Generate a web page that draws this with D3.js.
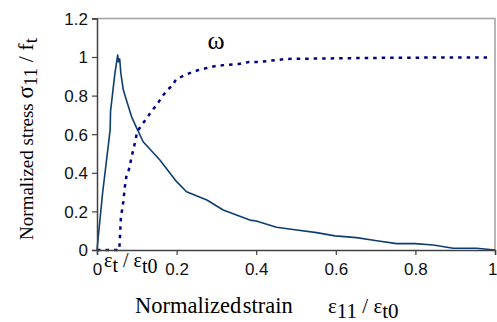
<!DOCTYPE html>
<html><head><meta charset="utf-8">
<script src="https://cdn.jsdelivr.net/npm/d3@7"></script>
<style>body{margin:0;background:#fff}svg{display:block}</style>
</head><body>
<svg id="c" width="497" height="322"></svg>
<script>
const xTicks=[0,0.2,0.4,0.6,0.8,1];
const yTicks=[0,0.2,0.4,0.6,0.8,1,1.2];
// normalized stress curve
const stressX=[0,0.014,0.033,0.034,0.043,0.045,0.052,0.054,0.057,0.06,0.066,0.075,0.087,0.1,0.104,0.116,0.158,0.2,0.225,0.276,0.317,0.384,0.4,0.451,0.502,0.552,0.598,0.652,0.703,0.753,0.799,0.845,0.895,0.954,1.0];
const stressY=[0,0.294,0.622,0.717,0.88,0.915,1.01,0.975,0.99,0.915,0.83,0.77,0.69,0.63,0.613,0.561,0.466,0.354,0.302,0.259,0.207,0.155,0.15,0.118,0.104,0.09,0.073,0.064,0.048,0.033,0.033,0.026,0.009,0.009,0];
// damage omega
const omegaX=[0,0.056,0.058,0.06,0.066,0.07,0.075,0.08,0.087,0.095,0.101,0.112,0.125,0.137,0.15,0.163,0.177,0.192,0.198,0.227,0.256,0.284,0.302,0.332,0.357,0.382,0.405,0.477,0.6,0.728,0.85,0.98];
const omegaY=[0,0,0.08,0.166,0.25,0.328,0.397,0.415,0.483,0.553,0.613,0.648,0.682,0.72,0.751,0.794,0.829,0.858,0.884,0.912,0.933,0.947,0.955,0.96,0.964,0.974,0.974,0.99,0.993,0.996,0.997,0.997];

const svg=d3.select("#c");
const L=97,R=495,T=18.4,B=250;
const x=d3.scaleLinear().domain([0,1]).range([L,R]);
const y=d3.scaleLinear().domain([0,1.2]).range([B,T]);

svg.append("path").attr("d",`M${L},${T}H${R}V${B}`).attr("fill","none").attr("stroke","#a0a0a0").attr("stroke-width",1.5);

const line=d3.line().x(d=>x(d[0])).y(d=>y(d[1]));
svg.append("path").datum(stressX.map((v,i)=>[v,stressY[i]])).attr("d",line)
 .attr("fill","none").attr("stroke","#0e3e70").attr("stroke-width",1.6).attr("stroke-linejoin","round");
svg.append("path").datum(omegaX.map((v,i)=>[v,omegaY[i]])).attr("d",line)
 .attr("fill","none").attr("stroke","#000080").attr("stroke-width",2.5).attr("stroke-dasharray","3.5,5");

const sans="'Liberation Sans', Arial, sans-serif";
const serif="'Liberation Serif', 'Times New Roman', serif";
const fmt=d=>d===0||d===1?String(d):d3.format(".1f")(d);
const ax=svg.append("g").attr("transform",`translate(0,${B})`).call(d3.axisBottom(x).tickValues(xTicks).tickSize(5).tickFormat(fmt));
const ay=svg.append("g").attr("transform",`translate(${L},0)`).call(d3.axisLeft(y).tickValues(yTicks).tickSize(5).tickFormat(fmt));
[ax,ay].forEach(g=>{g.attr("font-family",null).attr("font-size",null);
 g.select(".domain").attr("stroke","#404040").attr("stroke-width",1.5);
 g.selectAll(".tick line").attr("stroke","#404040").attr("stroke-width",1.2);
 g.selectAll("text").style("font-family",sans).style("font-size","17px").attr("fill","#111");});
ax.selectAll("text").attr("dy","1.0em");
ax.selectAll(".tick").filter(d=>d===1).select("text").attr("text-anchor","end").attr("x",2);
ay.selectAll("text").attr("x",-9).attr("dy","0.35em");

// omega label
svg.append("text").attr("x",216).attr("y",49).attr("text-anchor","middle").style("font-family",serif).style("font-size","26px").text("ω");

// epsilon_t / epsilon_t0 annotation
const ann=svg.append("text").attr("x",104).attr("y",267).style("font-family",serif).style("font-size","20px");
ann.append("tspan").text("ε");
ann.append("tspan").attr("dy",5).text("t");
ann.append("tspan").attr("dy",-5).text(" / ε");
ann.append("tspan").attr("dy",6).text("t0");

// x title
const xt=svg.append("text").attr("x",135).attr("y",313).style("font-family",serif).style("font-size","22.5px");
xt.append("tspan").attr("word-spacing",-4).text("Normalized strain");
xt.append("tspan").attr("x",328).style("font-size","21px").text("ε");
xt.append("tspan").attr("dy",5).style("font-size","21px").text("11");
xt.append("tspan").attr("dy",-5).style("font-size","21px").text(" / ε");
xt.append("tspan").attr("dy",5).style("font-size","21px").text("t0");

// y title
const yt=svg.append("text").attr("transform","translate(33,139) rotate(-90)").attr("text-anchor","middle").style("font-family",serif).style("font-size","19px");
yt.append("tspan").text("Normalized stress ");
yt.append("tspan").style("font-size","23px").text("σ");
yt.append("tspan").attr("dy",4).text("11");
yt.append("tspan").attr("dy",-4).style("font-size","22px").text(" / f");
yt.append("tspan").attr("dy",4).text("t");
</script>
</body></html>
